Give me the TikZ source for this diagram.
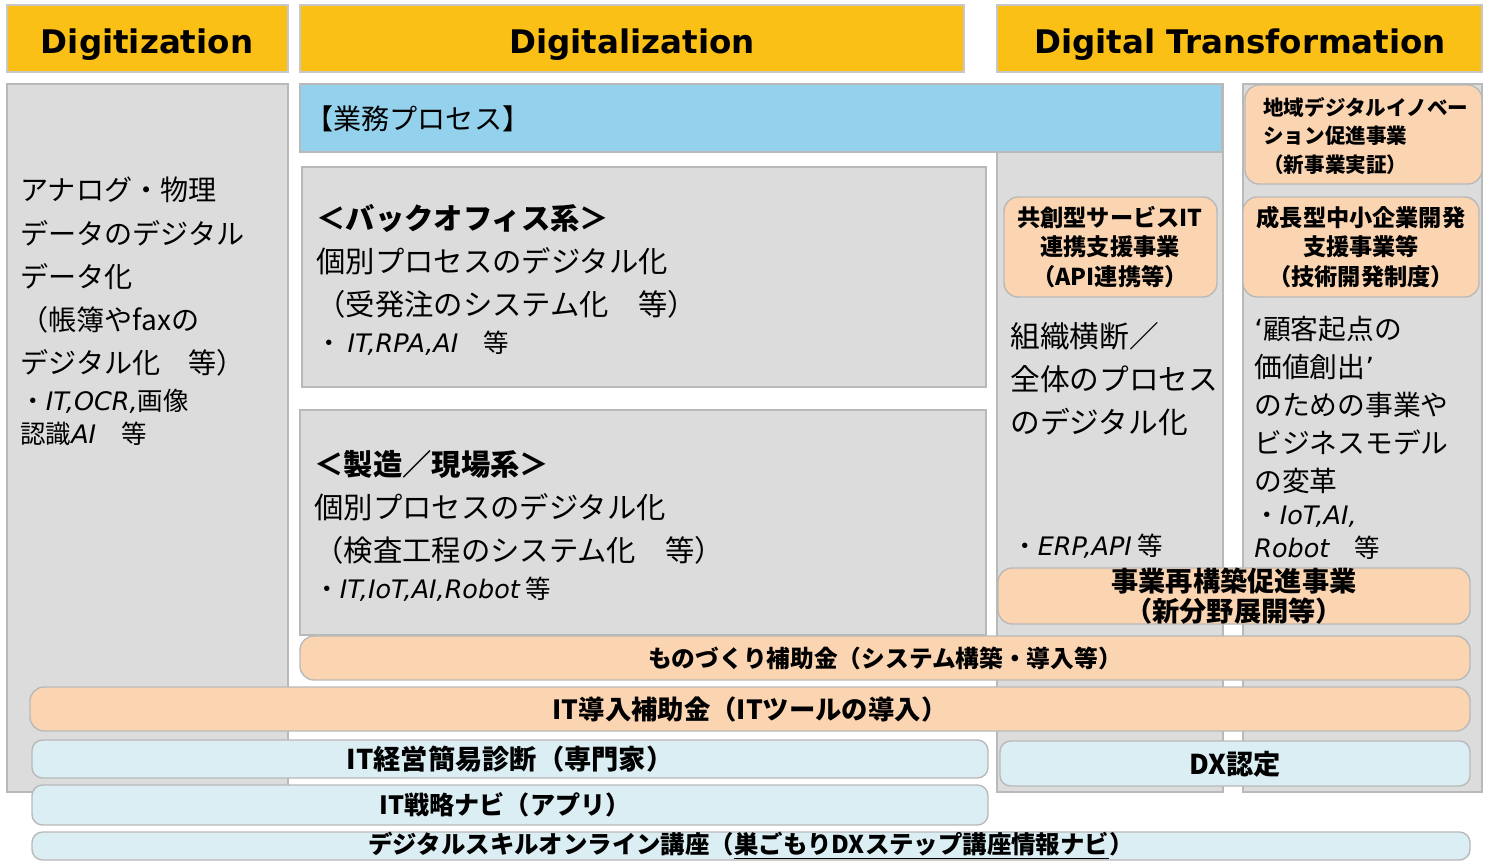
\documentclass[tikz,border=0pt]{standalone}
\usepackage{fontspec}
\setmainfont{Noto Sans CJK JP}
\newfontfamily\latfont{DejaVu Sans}
\newcommand{\latit}[1]{{\latfont\itshape #1}}
\definecolor{hdryellow}{RGB}{251,192,22}
\definecolor{hdrline}{RGB}{200,200,200}
\definecolor{panelgray}{RGB}{220,220,220}
\definecolor{panelline}{RGB}{185,185,185}
\definecolor{procblue}{RGB}{147,209,236}
\definecolor{progorange}{RGB}{251,213,178}
\definecolor{toolblue}{RGB}{218,238,244}
\begin{document}
\begin{tikzpicture}[x=0.02cm,y=-0.02cm]
\tikzstyle{every node}+=[inner sep=0pt]
\tikzstyle{header}=[fill=hdryellow, draw=hdrline, line width=1pt]
\tikzstyle{panel}=[fill=panelgray, draw=panelline, line width=1pt]
\tikzstyle{band}=[fill=procblue, draw=panelline, line width=1pt]
\tikzstyle{program}=[fill=progorange, draw=panelline, line width=0.8pt, rounded corners=8pt]
\tikzstyle{tool}=[fill=toolblue, draw=panelline, line width=0.8pt, rounded corners=6pt]
\tikzstyle{hdrtext}=[anchor=base, font={\fontsize{18.5}{22}\latfont\bfseries}]
\tikzstyle{bigtext}=[anchor=north west, align=left, font=\fontsize{16}{24.5}\selectfont]
\tikzstyle{midtext}=[anchor=north west, align=left, font=\fontsize{16.7}{24.4}\selectfont]
\tikzstyle{smalltext}=[anchor=north west, align=left, font=\fontsize{14.5}{18.8}\selectfont]
\tikzstyle{progtext}=[align=center, font=\fontsize{13.2}{16.8}\selectfont\bfseries]
\useasboundingbox (0,0) rectangle (1487,863);
% headers
\draw[header] (7,5) rectangle (288,72);
\draw[header] (300,5) rectangle (964,72);
\draw[header] (997,5) rectangle (1482,72);
\node[hdrtext] (digitization) at (147,53) {Digitization};
\node[hdrtext] (digitalization) at (632,53) {Digitalization};
\node[hdrtext] (dx) at (1240,53) {Digital Transformation};
% columns
\draw[panel] (7,84) rectangle (288,792);
\draw[panel] (997,84) rectangle (1223,792);
\draw[panel] (1243,84) rectangle (1482,792);
\draw[band] (300,84) rectangle (1222,152);
\draw[panel] (302,167) rectangle (986,387);
\draw[panel] (300,410) rectangle (986,635);
\node[anchor=west, font=\fontsize{16}{20}\selectfont] (process) at (305,119) {【業務プロセス】};
% digitization
\node[bigtext] (analog) at (20,177) {アナログ・物理\\データのデジタル\\データ化\\（帳簿やfaxの\\デジタル化　等）};
\node[smalltext] (analogtools) at (20,389) {・\latit{IT,OCR,}画像\\認識\latit{AI}　等};
% digitalization
\node[midtext] (backoffice) at (316,204) {{\bfseries ＜バックオフィス系＞}\\個別プロセスのデジタル化\\（受発注のシステム化　等）};
\node[smalltext] (backtools) at (316,331) {・ \latit{IT,RPA,AI}　等};
\node[midtext] (factory) at (314,450) {{\bfseries ＜製造／現場系＞}\\個別プロセスのデジタル化\\（検査工程のシステム化　等）};
\node[smalltext] (factorytools) at (314,577) {・\latit{IT,IoT,AI,Robot} 等};
% transformation
\draw[program] (1245,85) rectangle (1482,184);
\node[anchor=north west, align=left, font=\fontsize{11.7}{16.2}\selectfont\bfseries] (regional) at (1263,97) {地域デジタルイノベー\\ション促進事業\\（新事業実証）};
\draw[program] (1004,197) rectangle (1217,297);
\node[progtext] (cocreate) at (1110,247) {共創型サービスIT\\連携支援事業\\（API連携等）};
\draw[program] (1243,197) rectangle (1479,297);
\node[progtext] (growth) at (1361,247) {成長型中小企業開発\\支援事業等\\（技術開発制度）};
\node[midtext, font=\fontsize{16.9}{24.4}\selectfont] (crossorg) at (1010,322) {組織横断／\\全体のプロセス\\のデジタル化};
\node[smalltext] (crosstools) at (1012,534) {・\latit{ERP,API} 等};
\node[anchor=north west, align=left, font=\fontsize{15.8}{21.6}\selectfont] (customer) at (1254,316) {{\latfont ‘}顧客起点の\\価値創出{\latfont ’}\\のための事業や\\ビジネスモデル\\の変革};
\node[smalltext] (customertools) at (1254,506) {・\latit{IoT,AI,}\\\latit{Robot}　等};
% programs
\draw[program] (998,568) rectangle (1470,624);
\node[align=center, font=\fontsize{15.5}{17}\selectfont\bfseries] (restructure) at (1234,596) {事業再構築促進事業\\（新分野展開等）};
\draw[program] (300,636) rectangle (1470,680);
\node[font=\fontsize{13.5}{16}\selectfont\bfseries] (monozukuri) at (885,658) {ものづくり補助金（システム構築・導入等）};
\draw[program] (30,687) rectangle (1470,731);
\node[font=\fontsize{15}{18}\selectfont\bfseries] (itsubsidy) at (750,709) {IT導入補助金（ITツールの導入）};
% tools
\draw[tool] (32,740) rectangle (988,778);
\node[font=\fontsize{15.5}{18}\selectfont\bfseries] (itdiag) at (510,759) {IT経営簡易診断（専門家）};
\draw[tool] (1000,741) rectangle (1470,786);
\node[font=\fontsize{15.5}{18}\selectfont\bfseries] (dxcert) at (1235,764) {DX認定};
\draw[tool] (32,785) rectangle (988,825);
\node[font=\fontsize{14.3}{16}\selectfont\bfseries] (itnavi) at (505,805) {IT戦略ナビ（アプリ）};
\draw[tool] (32,832) rectangle (1470,860);
\node[font=\fontsize{13.9}{16}\selectfont\bfseries] (skill) at (751,846) {デジタルスキルオンライン講座（\underline{巣ごもりDXステップ講座情報ナビ}）};
\end{tikzpicture}
\end{document}
